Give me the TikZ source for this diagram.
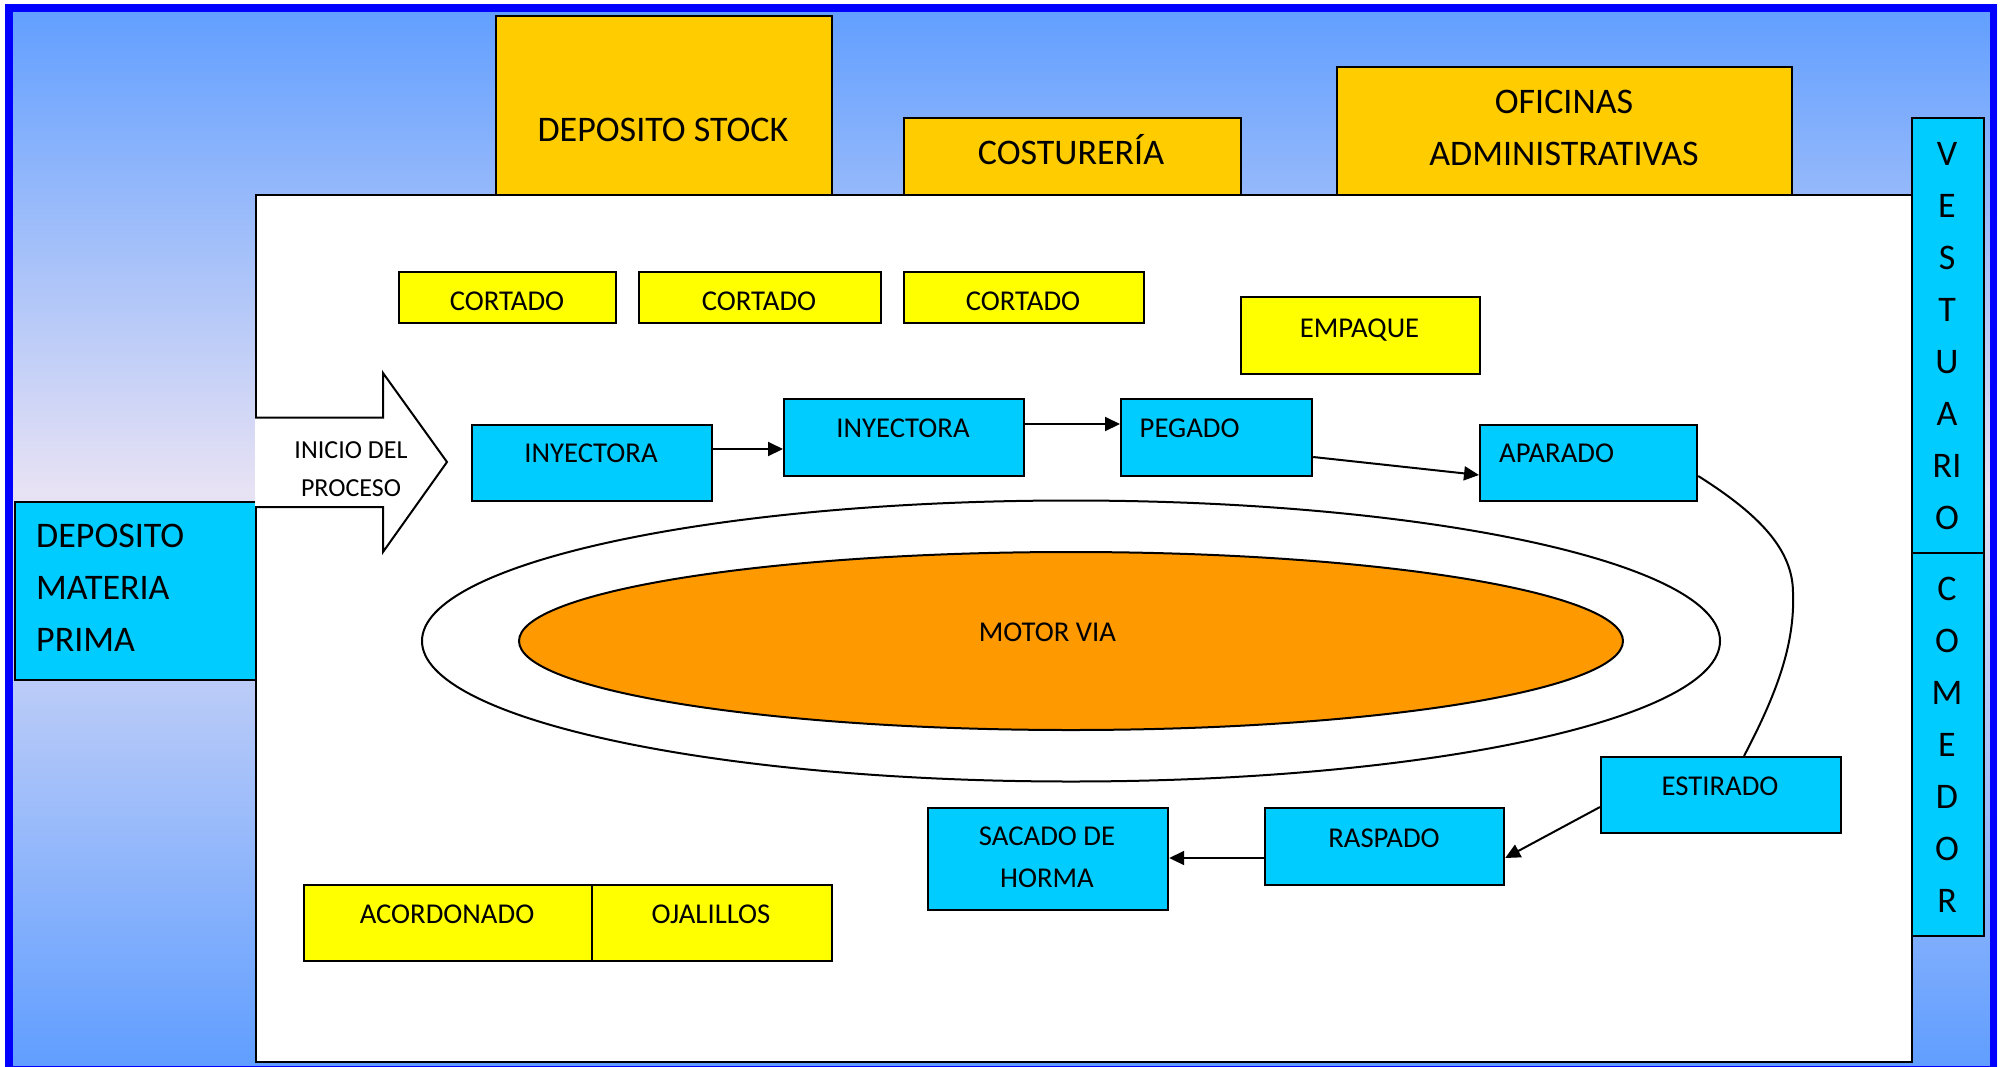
\documentclass[tikz,border=0pt]{standalone}
\usepackage{fontspec}
\setmainfont{Carlito}
\usetikzlibrary{arrows.meta,calc,shapes.geometric}
\definecolor{bgtop}{RGB}{96,158,255}
\definecolor{bgmid}{RGB}{232,226,244}
\definecolor{cyanbox}{RGB}{0,204,255}
\definecolor{ylw}{RGB}{255,255,0}
\definecolor{gold}{RGB}{255,204,0}
\definecolor{orng}{RGB}{255,153,0}
\definecolor{frameblue}{RGB}{0,0,255}
\pgfdeclareverticalshading{bgshade}{100bp}{color(0bp)=(bgtop); color(25bp)=(bgtop); color(52bp)=(bgmid); color(75bp)=(bgtop); color(100bp)=(bgtop)}
\begin{document}
\begin{tikzpicture}[x=1pt,y=-1pt,
  box/.style={draw=black,line width=2.2pt,inner sep=0pt,anchor=north west},
  cbox/.style={box,fill=cyanbox},
  ybox/.style={box,fill=ylw},
  gbox/.style={box,fill=gold},
  big/.style={font=\fontsize{36}{52}\selectfont,inner sep=0pt},
  mid/.style={font=\fontsize{28.7}{42}\selectfont,inner sep=0pt},
  sml/.style={font=\fontsize{26}{38}\selectfont,inner sep=0pt},
  conn/.style={line width=2pt,-{Triangle[length=15pt,width=14pt]}},
  plain/.style={line width=2pt}]
\useasboundingbox (0,0) rectangle (2002,1066);
% background and frame
\shade[shading=bgshade] (5,4) rectangle (1997,1066);
\draw[frameblue,line width=7.5pt] (8.75,7.75) rectangle (1993.25,1070);
% top rooms
\node[gbox,minimum width=336pt,minimum height=179pt] (stock) at (495,15) {};
\node[big,anchor=base] (stockt) at (663,141.4) {DEPOSITO STOCK};
\node[gbox,minimum width=337pt,minimum height=77pt] (cost) at (903,117) {};
\node[big,anchor=base] (costt) at (1071,164) {COSTURERÍA};
\node[gbox,minimum width=455pt,minimum height=128pt] (ofic) at (1336,66) {};
\node[big,align=center] (ofict) at (1564,128) {OFICINAS\\ADMINISTRATIVAS};
% main hall
\node[box,fill=white,minimum width=1656pt,minimum height=867pt] (hall) at (255,194) {};
% side rooms
\node[cbox,minimum width=241pt,minimum height=178pt] (depmp) at (14,501) {};
\node[big,align=left,anchor=west] (depmpt) at (36,588) {DEPOSITO\\MATERIA\\PRIMA};
\node[cbox,minimum width=72pt,minimum height=435pt] (vest) at (1911,117) {};
\node[big,align=center] (vestt) at (1947,336.5) {V\\E\\S\\T\\U\\A\\RI\\O};
\node[cbox,minimum width=72pt,minimum height=383pt] (come) at (1911,552) {};
\node[big,align=center] (comet) at (1947,745) {C\\O\\M\\E\\D\\O\\R};
% yellow stations
\node[ybox,minimum width=217pt,minimum height=51pt] (cort1) at (398,271) {};
\node[mid,anchor=base] (cort1t) at (507,310) {CORTADO};
\node[ybox,minimum width=242pt,minimum height=51pt] (cort2) at (638,271) {};
\node[mid,anchor=base] (cort2t) at (759,310) {CORTADO};
\node[ybox,minimum width=240pt,minimum height=51pt] (cort3) at (903,271) {};
\node[mid,anchor=base] (cort3t) at (1023,310) {CORTADO};
\node[ybox,minimum width=239pt,minimum height=77pt] (empa) at (1240,296) {};
\node[mid,anchor=base] (empat) at (1359.5,337) {EMPAQUE};
\node[ybox,minimum width=288pt,minimum height=76pt] (acor) at (303,884) {};
\node[mid,anchor=base] (acort) at (447,923) {ACORDONADO};
\node[ybox,minimum width=240pt,minimum height=76pt] (ojal) at (591,884) {};
\node[mid,anchor=base] (ojalt) at (711,923) {OJALILLOS};
% start arrow
\draw[plain,fill=white] (255,417.5) -- (383,417.5) -- (383,373) -- (447,462) -- (383,552) -- (383,507) -- (255,507);
\node[sml,align=center] (inicio) at (351,469) {INICIO DEL\\PROCESO};
% track
\node[ellipse,draw,line width=2pt,fill=white,minimum width=1298pt,minimum height=281pt,inner sep=0pt] (track) at (1071,641) {};
\node[ellipse,draw,line width=2pt,fill=orng,minimum width=1104pt,minimum height=178pt,inner sep=0pt] (motor) at (1071,641) {};
\node[mid,anchor=base] (motort) at (1047.5,641) {MOTOR VIA};
% process stations
\node[cbox,minimum width=240pt,minimum height=76pt] (iny1) at (471,424) {};
\node[mid,anchor=base] (iny1t) at (591,462) {INYECTORA};
\node[cbox,minimum width=240pt,minimum height=77pt] (iny2) at (783,398) {};
\node[mid,anchor=base] (iny2t) at (903,437) {INYECTORA};
\node[cbox,minimum width=191pt,minimum height=77pt] (peg) at (1120,398) {};
\node[mid,anchor=base west] (pegt) at (1139.5,437) {PEGADO};
\node[cbox,minimum width=217pt,minimum height=76pt] (apar) at (1479,424) {};
\node[mid,anchor=base west] (apart) at (1499,462) {APARADO};
\node[cbox,minimum width=240pt,minimum height=76pt] (esti) at (1600,756) {};
\node[mid,anchor=base] (estit) at (1720,795) {ESTIRADO};
\node[cbox,minimum width=239pt,minimum height=77pt] (rasp) at (1264,807) {};
\node[mid,anchor=base] (raspt) at (1384,847) {RASPADO};
\node[cbox,minimum width=240pt,minimum height=102pt] (saca) at (927,807) {};
\node[mid,align=center] (sacat) at (1047,857) {SACADO DE\\HORMA};
% connectors
\draw[conn] (iny1.east |- 0,449) -- (iny2.west |- 0,449);
\draw[conn] (iny2.east |- 0,424) -- (peg.west |- 0,424);
\draw[conn] (peg.east |- 0,457) -- (apar.west |- 0,475);
\draw[plain] (apar.east |- 0,476) .. controls (1760,515) and (1793,550) .. (1793,593)
  .. controls (1795,645) and (1776,695) .. (1744,0 |- esti.north);
\draw[conn] (esti.west |- 0,807) -- (rasp.east |- 0,858);
\draw[conn] (rasp.west |- 0,858) -- (saca.east |- 0,858);
\end{tikzpicture}
\end{document}
